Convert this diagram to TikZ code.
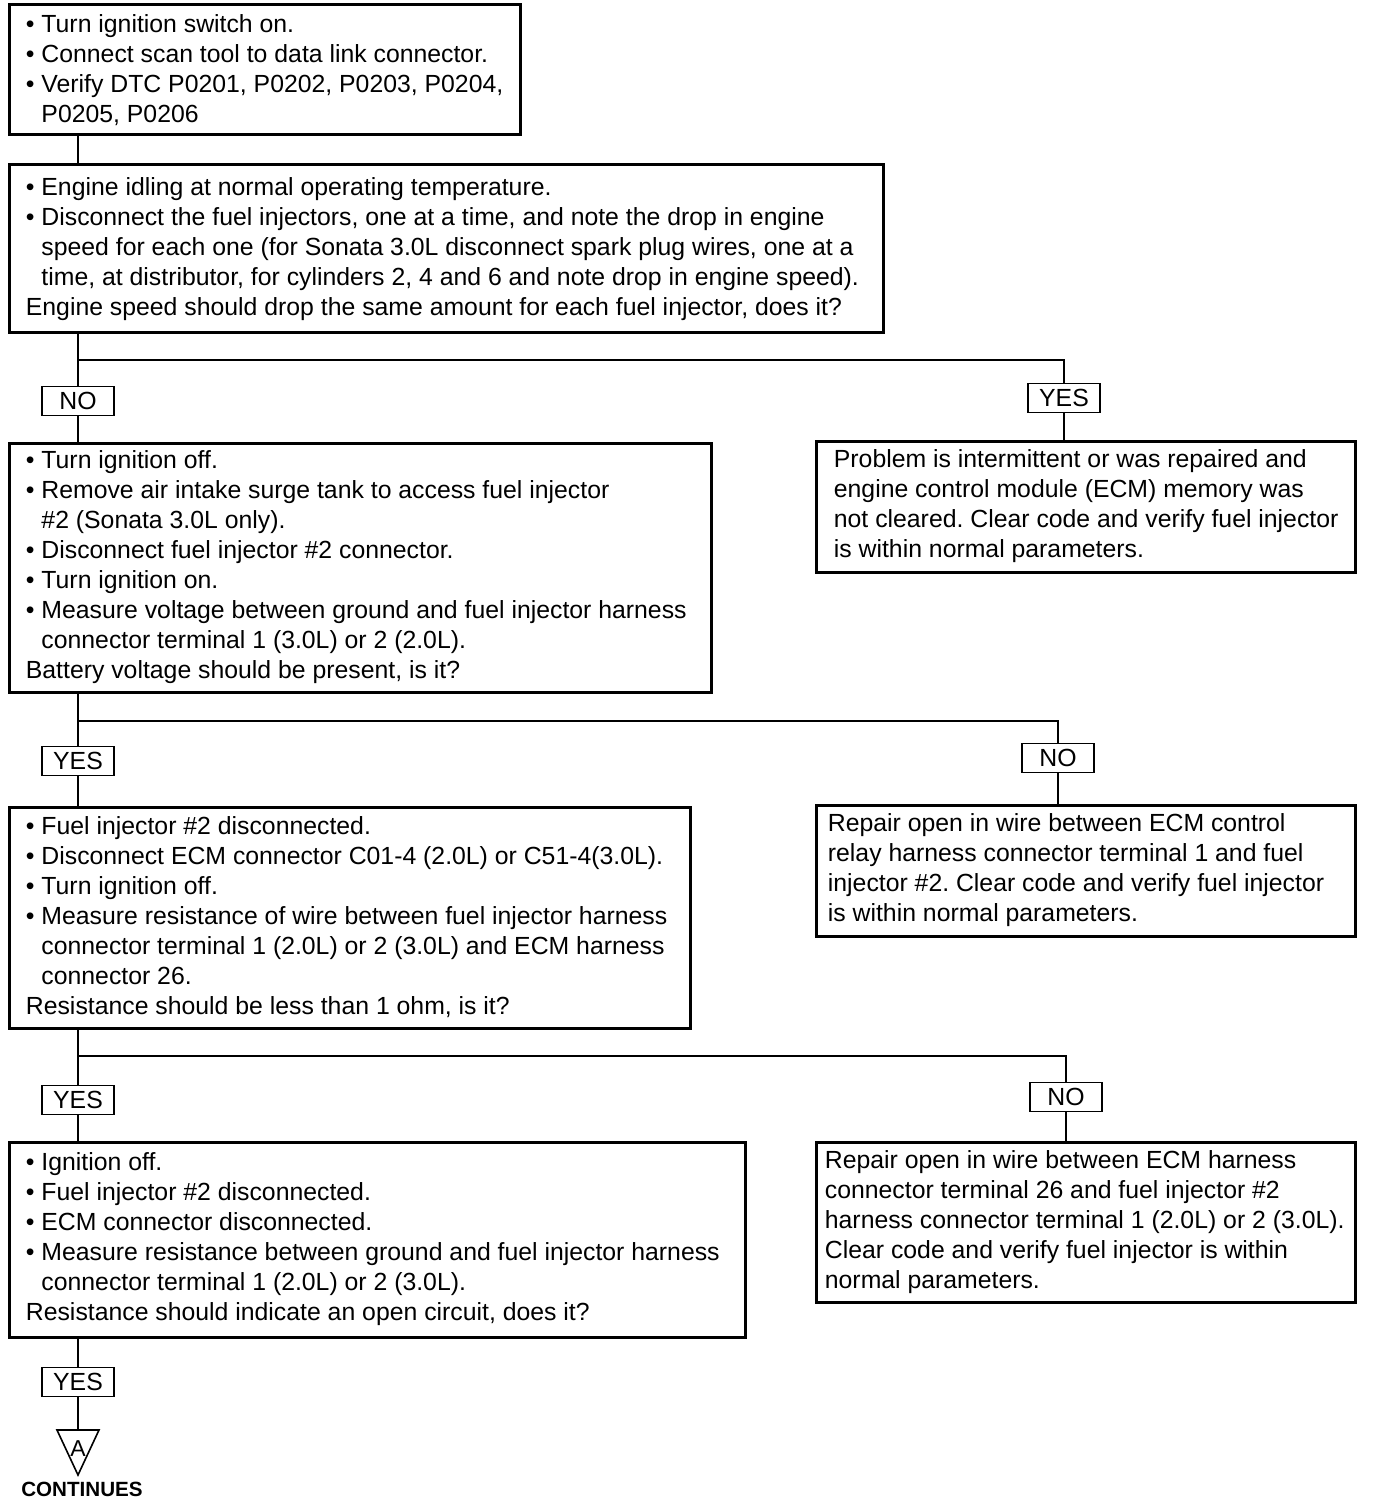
\documentclass[tikz,border=0pt]{standalone}
\usepackage{fontspec}
\setmainfont{Liberation Sans}
\usetikzlibrary{positioning, calc, fit}
\newcommand{\bl}{\textbullet\ }
\newcommand{\ind}{\hphantom{\textbullet\ }}
\frenchspacing

\begin{document}
\begin{tikzpicture}[x=0.5pt, y=-0.5pt,
    stepbox/.style={draw, line width=1.5pt, inner sep=0pt},
    txt/.style={anchor=west, align=left, inner sep=0pt, font=\fontsize{12.4}{15}\selectfont},
    lbl/.style={draw, line width=0.7pt, fill=white, inner sep=0pt, minimum width=36pt, minimum height=14.5pt, font=\fontsize{12.4}{15}\selectfont},
    conn/.style={line width=1.3pt}]
  \useasboundingbox (0,0) rectangle (1376,1502);

  % Kasten links
  \node[stepbox, fit={(9,5) (520,135)}] (s1) {};
  \node[txt] (s1t) at ($(s1.west)+(18,0)$) {\bl Turn ignition switch on.\\
    \bl Connect scan tool to data link connector.\\
    \bl Verify DTC P0201, P0202, P0203, P0204,\\
    \ind P0205, P0206};

  \node[stepbox, fit={(9,165) (883,333)}] (s2) {};
  \node[txt] (s2t) at ($(s2.west)+(18,0)$) {\bl Engine idling at normal operating temperature.\\
    \bl Disconnect the fuel injectors, one at a time, and note the drop in engine\\
    \ind speed for each one (for Sonata 3.0L disconnect spark plug wires, one at a\\
    \ind time, at distributor, for cylinders 2, 4 and 6 and note drop in engine speed).\\
    Engine speed should drop the same amount for each fuel injector, does it?};

  \node[stepbox, fit={(9,443) (711,692)}] (s3) {};
  \node[txt] (s3t) at ($(s3.west)+(18,0)$) {\bl Turn ignition off.\\
    \bl Remove air intake surge tank to access fuel injector\\
    \ind \#2 (Sonata 3.0L only).\\
    \bl Disconnect fuel injector \#2 connector.\\
    \bl Turn ignition on.\\
    \bl Measure voltage between ground and fuel injector harness\\
    \ind connector terminal 1 (3.0L) or 2 (2.0L).\\
    Battery voltage should be present, is it?};

  \node[stepbox, fit={(9,807) (690,1028)}] (s4) {};
  \node[txt] (s4t) at ($(s4.west)+(18,0)$) {\bl Fuel injector \#2 disconnected.\\
    \bl Disconnect ECM connector C01-4 (2.0L) or C51-4(3.0L).\\
    \bl Turn ignition off.\\
    \bl Measure resistance of wire between fuel injector harness\\
    \ind connector terminal 1 (2.0L) or 2 (3.0L) and ECM harness\\
    \ind connector 26.\\
    Resistance should be less than 1 ohm, is it?};

  \node[stepbox, fit={(9,1142) (745,1337)}] (s5) {};
  \node[txt] (s5t) at ($(s5.west)+(18,0)$) {\bl Ignition off.\\
    \bl Fuel injector \#2 disconnected.\\
    \bl ECM connector disconnected.\\
    \bl Measure resistance between ground and fuel injector harness\\
    \ind connector terminal 1 (2.0L) or 2 (3.0L).\\
    Resistance should indicate an open circuit, does it?};

  % Kasten rechts
  \node[stepbox, fit={(816,441) (1355,572)}] (r1) {};
  \node[txt] (r1t) at ($(r1.west)+(19,0)$) {Problem is intermittent or was repaired and\\
    engine control module (ECM) memory was\\
    not cleared. Clear code and verify fuel injector\\
    is within normal parameters.};

  \node[stepbox, fit={(816,805) (1355,936)}] (r2) {};
  \node[txt] (r2t) at ($(r2.west)+(13,0)$) {Repair open in wire between ECM control\\
    relay harness connector terminal 1 and fuel\\
    injector \#2. Clear code and verify fuel injector\\
    is within normal parameters.};

  \node[stepbox, fit={(816,1142) (1355,1302)}] (r3) {};
  \node[txt] (r3t) at ($(r3.west)+(10,0)$) {Repair open in wire between ECM harness\\
    connector terminal 26 and fuel injector \#2\\
    harness connector terminal 1 (2.0L) or 2 (3.0L).\\
    Clear code and verify fuel injector is within\\
    normal parameters.};

  % YES/NO
  \node[lbl] (n1) at (78,401) {NO};
  \node[lbl] (y1) at (1064,398) {YES};
  \node[lbl] (y2) at (78,761) {YES};
  \node[lbl] (n2) at (1058,758) {NO};
  \node[lbl] (y3) at (78,1100) {YES};
  \node[lbl] (n3) at (1066,1097) {NO};
  \node[lbl] (y4) at (78,1382) {YES};

  \coordinate (j1) at (78,360);
  \coordinate (j2) at (78,721);
  \coordinate (j3) at (78,1056);

  % Verbindungen
  \draw[conn] (s1.south -| n1) -- (s2.north -| n1);
  \draw[conn] (s2.south -| n1) -- (n1.north);
  \draw[conn] (j1) -| (y1.north);
  \draw[conn] (y1.south) -- (r1.north -| y1);
  \draw[conn] (n1.south) -- (s3.north -| n1);

  \draw[conn] (s3.south -| y2) -- (y2.north);
  \draw[conn] (j2) -| (n2.north);
  \draw[conn] (n2.south) -- (r2.north -| n2);
  \draw[conn] (y2.south) -- (s4.north -| y2);

  \draw[conn] (s4.south -| y3) -- (y3.north);
  \draw[conn] (j3) -| (n3.north);
  \draw[conn] (n3.south) -- (r3.north -| n3);
  \draw[conn] (y3.south) -- (s5.north -| y3);

  \draw[conn] (s5.south -| y4) -- (y4.north);

  % Fortsetzung
  \coordinate (tA) at (78,1430);
  \draw[conn] (y4.south) -- (tA);
  \draw[line width=0.8pt] (tA) ++(-21,0) -- ++(42,0) -- ++(-21,45) -- cycle;
  \node[font=\fontsize{11.5}{12}\selectfont, inner sep=0pt] (contA) at (78,1449) {A};
  \node[font=\bfseries\fontsize{10.3}{12}\selectfont, inner sep=0pt] (cont) at (82,1489) {CONTINUES};
\end{tikzpicture}
\end{document}
